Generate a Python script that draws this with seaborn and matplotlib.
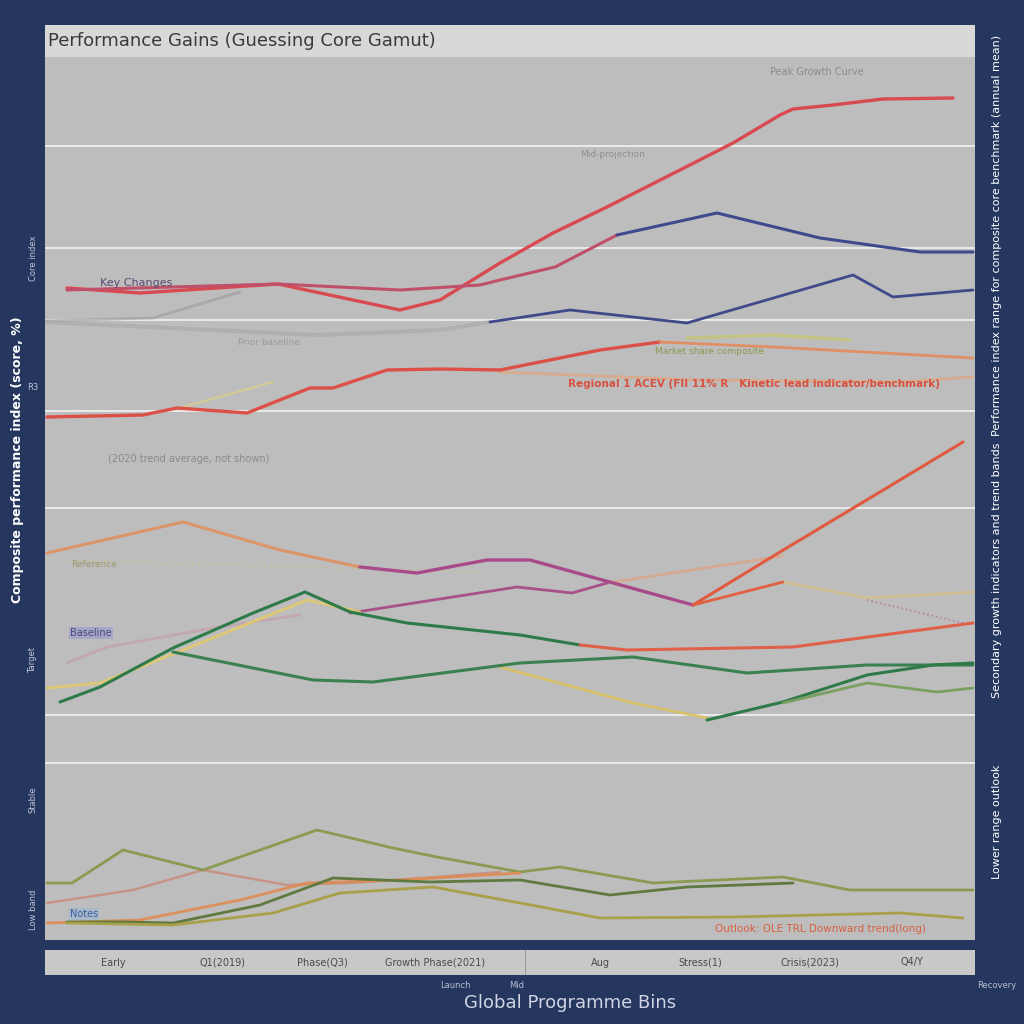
import matplotlib
matplotlib.use("Agg")
import matplotlib.pyplot as plt
import seaborn as sns

# series: (x, y) in chart units (x: 0-93 timeline, y: 0-88 index score)
red_main_x = [2.2, 9.5, 23.3, 35.5, 39.5, 45.5, 50.8, 56.2, 63.5, 68.8, 73.5, 74.8, 78.8, 83.8, 90.8]
red_main_y = [65.2, 64.7, 65.6, 63.0, 64.0, 67.7, 70.7, 73.3, 77.0, 79.7, 82.5, 83.1, 83.5, 84.1, 84.2]
pink_x = [2.2, 23.3, 35.5, 43.5, 45.5, 51.0, 57.2]
pink_y = [65.0, 65.6, 65.0, 65.5, 66.0, 67.3, 70.5]
navy_a_x = [57.2, 67.2, 77.5, 87.5, 92.8]
navy_a_y = [70.5, 72.7, 70.2, 68.8, 68.8]
navy_b_x = [44.5, 52.5, 64.2, 80.8, 84.8, 92.8]
navy_b_y = [61.8, 63.0, 61.7, 66.5, 64.3, 65.0]
gray_a_x = [0.0, 10.8, 19.5]
gray_a_y = [61.9, 62.2, 64.8]
gray_b_x = [0.0, 27.2, 39.5, 44.5]
gray_b_y = [61.8, 60.5, 61.0, 61.8]
red_mid_x = [0.2, 9.8, 13.2, 20.2, 26.5, 28.8, 34.2, 39.5, 45.5, 55.5, 61.5]
red_mid_y = [52.3, 52.5, 53.2, 52.7, 55.2, 55.2, 57.0, 57.1, 57.0, 59.0, 59.8]
orange_mid_x = [61.5, 72.8, 92.8]
orange_mid_y = [59.8, 59.3, 58.2]
yellow_faint_x = [13.8, 22.8]
yellow_faint_y = [53.3, 55.8]
lime_faint_x = [64.2, 72.8, 80.5]
lime_faint_y = [60.2, 60.5, 60.0]
peach_x = [45.5, 65.5, 85.5, 92.8]
peach_y = [56.8, 56.0, 55.8, 56.3]

orange_top_x = [0.2, 13.8, 23.5, 31.5]
orange_top_y = [38.7, 41.8, 39.0, 37.3]
magenta_a_x = [31.5, 37.2, 44.2, 48.5, 64.8]
magenta_a_y = [37.3, 36.7, 38.0, 38.0, 33.5]
red_up_x = [64.8, 73.5, 82.5, 91.8]
red_up_y = [33.5, 38.8, 44.2, 49.8]
magenta_b_x = [30.5, 47.2, 52.7, 56.2]
magenta_b_y = [32.7, 35.3, 34.7, 35.7]
salmon_x = [56.2, 73.8]
salmon_y = [35.7, 38.4]
red_b_x = [64.8, 73.8]
red_b_y = [33.5, 35.8]
beige_x = [73.8, 82.2, 93.0]
beige_y = [35.8, 34.2, 34.8]
dotted_x = [82.2, 91.8]
dotted_y = [34.0, 31.7]
green_a_x = [1.5, 5.5, 12.8, 20.8, 26.0, 30.5, 36.2, 47.5, 53.5]
green_a_y = [23.8, 25.3, 29.2, 32.7, 34.8, 32.8, 31.7, 30.5, 29.5]
red_low_x = [53.5, 58.2, 74.8, 92.8]
red_low_y = [29.5, 29.0, 29.3, 31.7]
green_b_x = [12.8, 26.8, 32.8, 47.5, 58.8, 70.2, 82.2, 92.8]
green_b_y = [28.8, 26.0, 25.8, 27.7, 28.3, 26.7, 27.5, 27.5]
yellow_a_x = [0.2, 5.5, 13.8, 26.2, 31.5]
yellow_a_y = [25.2, 25.7, 29.0, 34.0, 32.8]
yellow_b_x = [45.5, 58.8, 66.2]
yellow_b_y = [27.3, 23.7, 22.2]
green_c_x = [66.2, 73.8, 82.2, 88.8, 92.8]
green_c_y = [22.0, 23.8, 26.5, 27.5, 27.7]
lightgreen_x = [73.8, 82.2, 89.2, 92.8]
lightgreen_y = [23.7, 25.7, 24.8, 25.2]
faint_pink_x = [2.2, 6.2, 16.8, 25.5]
faint_pink_y = [27.7, 29.3, 31.2, 32.5]
ref_x = [1.5, 29.5, 43.5]
ref_y = [38.0, 37.2, 36.8]

olive_a_x = [0.2, 2.7, 7.8, 15.8, 27.2, 34.8, 39.2, 47.5, 51.5, 60.8, 73.8, 80.5, 92.8]
olive_a_y = [5.7, 5.7, 9.0, 7.0, 11.0, 9.2, 8.3, 6.8, 7.3, 5.7, 6.3, 5.0, 5.0]
orange_b_x = [0.2, 8.8, 15.8, 24.2, 30.5, 39.2, 45.5]
orange_b_y = [3.7, 5.0, 7.0, 5.5, 5.7, 6.3, 6.8]
green_d_x = [2.2, 7.8, 12.8, 21.5, 28.8, 38.5, 47.5, 56.5, 64.2, 74.8]
green_d_y = [1.8, 1.8, 1.7, 3.5, 6.2, 5.8, 6.0, 4.5, 5.3, 5.7]
olive_d_x = [2.2, 12.8, 22.8, 29.5, 38.8, 47.5, 55.5, 68.8, 85.5, 91.8]
olive_d_y = [1.7, 1.5, 2.7, 4.7, 5.3, 3.7, 2.2, 2.3, 2.7, 2.2]
orange_e_x = [0.2, 9.5, 19.5, 26.2, 35.5, 47.5]
orange_e_y = [1.7, 2.0, 4.0, 5.7, 6.0, 6.7]

grid_levels = [79.4, 69.2, 62.0, 52.9, 43.2, 22.5, 17.7]
band_labels = ["Early", "Q1(2019)", "Phase(Q3)", "Growth Phase(2021)", "Aug", "Stress(1)", "Crisis(2023)", "Q4/Y"]
band_pos = [6.8, 17.7, 27.7, 39.0, 55.5, 65.5, 76.5, 86.7]

NAVY = "#26375f"
sns.set_theme(style="white")
plt.rcParams["font.family"] = ["DejaVu Sans"]

fig = plt.figure(figsize=(10.24, 10.24), dpi=100, facecolor=NAVY)
ax = fig.add_axes([45 / 1024, 84 / 1024, 930 / 1024, 883 / 1024])
ax.set_facecolor("#bdbdbd")

series = [
    (gray_a_x, gray_a_y, "#9a9a9a", 2.0, 0.6, "-"),
    (gray_b_x, gray_b_y, "#a8a8a8", 3.0, 0.6, "-"),
    (faint_pink_x, faint_pink_y, "#c49aa8", 2.0, 0.6, "-"),
    (ref_x, ref_y, "#c8c090", 1.5, 0.7, ":"),
    (yellow_faint_x, yellow_faint_y, "#e0d080", 1.5, 0.7, "-"),
    (lime_faint_x, lime_faint_y, "#c8c860", 2.5, 0.6, "-"),
    (peach_x, peach_y, "#e8a070", 2.0, 0.6, "-"),
    (salmon_x, salmon_y, "#e0a080", 2.0, 0.7, "-"),
    (beige_x, beige_y, "#d8c080", 2.0, 0.7, "-"),
    (dotted_x, dotted_y, "#b070a0", 1.2, 0.8, ":"),
    (red_main_x, red_main_y, "#d84a50", 2.4, 1.0, "-"),
    (pink_x, pink_y, "#c0506a", 2.2, 1.0, "-"),
    (navy_a_x, navy_a_y, "#3f4a8e", 2.2, 1.0, "-"),
    (navy_b_x, navy_b_y, "#404a8a", 2.0, 1.0, "-"),
    (red_mid_x, red_mid_y, "#dc5048", 2.4, 1.0, "-"),
    (orange_mid_x, orange_mid_y, "#e58a5a", 2.0, 0.9, "-"),
    (orange_top_x, orange_top_y, "#e09060", 2.2, 0.9, "-"),
    (magenta_a_x, magenta_a_y, "#a84a8a", 2.4, 1.0, "-"),
    (red_up_x, red_up_y, "#e05a40", 2.2, 1.0, "-"),
    (magenta_b_x, magenta_b_y, "#a85088", 2.0, 1.0, "-"),
    (red_b_x, red_b_y, "#e06040", 2.0, 1.0, "-"),
    (yellow_a_x, yellow_a_y, "#e0c870", 2.2, 0.9, "-"),
    (yellow_b_x, yellow_b_y, "#d8c060", 2.0, 0.9, "-"),
    (green_a_x, green_a_y, "#2e7a4a", 2.2, 1.0, "-"),
    (red_low_x, red_low_y, "#e0604a", 2.2, 1.0, "-"),
    (green_b_x, green_b_y, "#3a8050", 2.2, 1.0, "-"),
    (green_c_x, green_c_y, "#2f7a48", 2.2, 1.0, "-"),
    (lightgreen_x, lightgreen_y, "#7aa060", 2.0, 1.0, "-"),
    (orange_b_x, orange_b_y, "#c89080", 1.8, 0.9, "-"),
    (olive_a_x, olive_a_y, "#8a9a50", 2.0, 1.0, "-"),
    (orange_e_x, orange_e_y, "#e08a50", 2.0, 0.9, "-"),
    (green_d_x, green_d_y, "#5f7a40", 2.0, 1.0, "-"),
    (olive_d_x, olive_d_y, "#a8a048", 2.0, 1.0, "-"),
]
for xs, ys, col, lw, a, ls in series:
    sns.lineplot(x=xs, y=ys, ax=ax, color=col, linewidth=lw, alpha=a,
                 linestyle=ls, sort=False, estimator=None)

ax.set_xlim(0, 93)
ax.set_ylim(0, 88.3)
ax.set_yticks(grid_levels)
ax.set_xticks([])
ax.tick_params(left=False, labelleft=False)
ax.grid(axis="y", color="#f2f2f2", linewidth=1.2)
ax.set_axisbelow(True)
for s in ax.spines.values():
    s.set_visible(False)

# annotations inside the plot
ax.text(72.5, 86.5, "Peak Growth Curve", fontsize=7, color="#8a8a8a")
ax.text(53.5, 78.3, "Mid-projection", fontsize=6.5, color="#8f8f8f")
ax.text(5.5, 65.4, "Key Changes", fontsize=8, color="#5a4a70")
ax.text(19.3, 59.5, "Prior baseline", fontsize=6.5, color="#9a9a9a")
ax.text(61.0, 58.6, "Market share composite", fontsize=6.5, color="#8a9a50")
ax.text(52.3, 55.3, "Regional 1 ACEV (FII 11% R   Kinetic lead indicator/benchmark)",
        fontsize=7.5, color="#d85040", fontweight="bold")
ax.text(6.3, 47.8, "(2020 trend average, not shown)", fontsize=7, color="#8a8a8a")
ax.text(2.6, 37.3, "Reference", fontsize=6.5, color="#9a9a70")
ax.text(2.5, 30.4, "Baseline", fontsize=7, color="#4a4a80",
        bbox=dict(boxstyle="square,pad=0.15", fc="#a6a6c6", ec="none"))
ax.text(2.5, 2.3, "Notes", fontsize=7, color="#3a60a0",
        bbox=dict(boxstyle="square,pad=0.1", fc="#a8b8c8", ec="none"))
ax.text(67.0, 0.8, "Outlook: OLE TRL Downward trend(long)", fontsize=7.5, color="#d86040")

# title bar
tax = fig.add_axes([45 / 1024, 967 / 1024, 930 / 1024, 32 / 1024])
tax.set_facecolor("#d8d8d8")
tax.set_xticks([])
tax.set_yticks([])
for s in tax.spines.values():
    s.set_visible(False)
tax.text(0.003, 0.5, "Performance Gains (Guessing Core Gamut)", fontsize=13,
         color="#3a3a3a", va="center", ha="left")

# category band below the plot
bax = fig.add_axes([45 / 1024, 49 / 1024, 930 / 1024, 25 / 1024])
bax.set_facecolor("#c8c8c8")
bax.set_xlim(0, 93)
bax.set_ylim(0, 1)
bax.set_xticks([])
bax.set_yticks([])
for s in bax.spines.values():
    s.set_visible(False)
bax.axvline(48.0, color="#9a9a9a", linewidth=0.8)
for lab, pos in zip(band_labels, band_pos):
    bax.text(pos, 0.5, lab, fontsize=7, color="#4a4a4a", ha="center", va="center")

fig.text(455 / 1024, 1 - 985 / 1024, "Launch", fontsize=6, color="#b8bcd0", ha="center", va="center")
fig.text(517 / 1024, 1 - 985 / 1024, "Mid", fontsize=6, color="#b8bcd0", ha="center", va="center")
fig.text(1016 / 1024, 1 - 985 / 1024, "Recovery", fontsize=6, color="#b8bcd0", ha="right", va="center")
fig.text(570 / 1024, 1 - 1003 / 1024, "Global Programme Bins", fontsize=13,
         color="#d0d4e4", ha="center", va="center")

# left side labels
fig.text(18 / 1024, 1 - 460 / 1024, "Composite performance index (score, %)",
         fontsize=9, color="white", rotation=90, ha="center", va="center", fontweight="bold")
fig.text(33 / 1024, 1 - 258 / 1024, "Core index", fontsize=6, color="#c0c4d8",
         rotation=90, ha="center", va="center")
fig.text(33 / 1024, 1 - 388 / 1024, "R3", fontsize=6, color="#c0c4d8", ha="center", va="center")
fig.text(33 / 1024, 1 - 660 / 1024, "Target", fontsize=6, color="#c0c4d8",
         rotation=90, ha="center", va="center")
fig.text(33 / 1024, 1 - 800 / 1024, "Stable", fontsize=6, color="#c0c4d8",
         rotation=90, ha="center", va="center")
fig.text(33 / 1024, 1 - 910 / 1024, "Low band", fontsize=6, color="#c0c4d8",
         rotation=90, ha="center", va="center")

# right side labels
fig.text(997 / 1024, 1 - 235 / 1024,
         "Performance index range for composite core benchmark (annual mean)",
         fontsize=8, color="white", rotation=90, ha="center", va="center")
fig.text(997 / 1024, 1 - 570 / 1024, "Secondary growth indicators and trend bands",
         fontsize=8, color="white", rotation=90, ha="center", va="center")
fig.text(997 / 1024, 1 - 822 / 1024, "Lower range outlook",
         fontsize=8, color="white", rotation=90, ha="center", va="center")

fig.savefig("out.png", dpi=100, facecolor=NAVY)
